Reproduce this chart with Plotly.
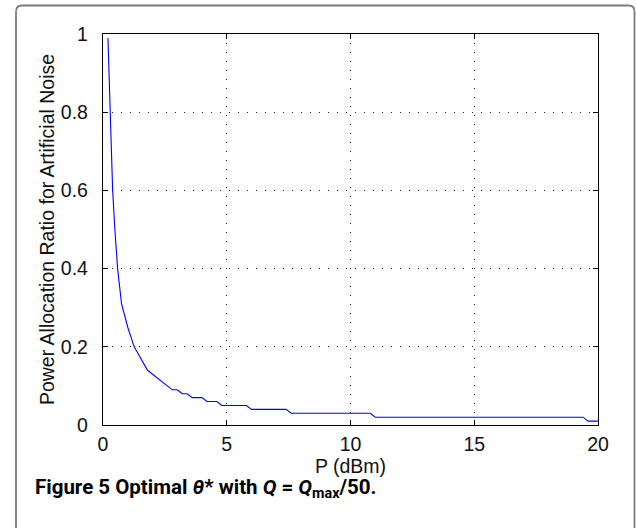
import plotly.graph_objects as go

# Data (P in dBm, power allocation ratio)
p_dbm = [0.2, 0.28, 0.39, 0.48, 0.59, 0.75, 1.0, 1.26, 1.43, 1.8, 2.8, 3.0,
         3.2, 3.4, 3.6, 4.0, 4.2, 4.6, 4.8, 5.8, 6.0, 7.4, 7.6, 10.8, 11.0,
         19.4, 19.6, 20.0]
ratio = [0.99, 0.80, 0.60, 0.50, 0.40, 0.31, 0.25, 0.20, 0.18, 0.14, 0.09, 0.09,
         0.08, 0.08, 0.07, 0.07, 0.06, 0.06, 0.05, 0.05, 0.04, 0.04, 0.03, 0.03, 0.02,
         0.02, 0.01, 0.01]

x_ticks = [0, 5, 10, 15, 20]
x_tick_labels = ["0", "5", "10", "15", "20"]
y_ticks = [0, 0.2, 0.4, 0.6, 0.8, 1.0]
y_tick_labels = ["0", "0.2", "0.4", "0.6", "0.8", "1"]

x_title = "P (dBm)"
y_title = "Power Allocation Ratio for Artificial Noise"
caption = ("<b>Figure 5 Optimal <i>θ</i>* with <i>Q</i> = "
           "<i>Q</i><sub>max</sub>/50.</b>")

W, H = 636, 528
L, R, T, B = 103, 38, 34, 103
pw, ph = W - L - R, H - T - B


def px_x(x):
    return (x - L) / pw


def px_y(y):
    return (H - B - y) / ph


fig = go.Figure()
fig.add_trace(go.Scatter(x=p_dbm, y=ratio, mode="lines",
                         line=dict(color="#0000ff", width=1.1),
                         showlegend=False, hoverinfo="skip"))

font = dict(family="Liberation Sans, Arial, sans-serif", size=19.5, color="#111")
axis_common = dict(
    showline=True, linecolor="black", linewidth=1.3, mirror="ticks",
    ticks="inside", ticklen=5, tickcolor="black", tickwidth=1,
    showgrid=True, gridcolor="#222", gridwidth=1, griddash="1px,8px",
    zeroline=False, tickfont=font,
)

fig.update_xaxes(range=[0, 20], tickvals=x_ticks, ticktext=x_tick_labels,
                 title=dict(text=x_title, font=font, standoff=0),
                 ticklabelstandoff=1, **axis_common)
fig.update_yaxes(range=[0, 1], tickvals=y_ticks, ticktext=y_tick_labels,
                 title=dict(text=y_title, font=font, standoff=1),
                 ticklabelstandoff=10, **axis_common)

# rounded outer frame (sides + rounded corners)
frame = dict(color="#7a7a7a", width=1.8)
xl, xr = px_x(16), px_x(634.5)
yt, yb = px_y(5.5), px_y(540)
rx, ry = 6 / pw, 6 / ph
fig.add_shape(type="line", xref="paper", yref="paper",
              x0=xl + rx, x1=xr - rx, y0=yt, y1=yt, line=frame)
fig.add_shape(type="line", xref="paper", yref="paper",
              x0=xl, x1=xl, y0=yt - ry, y1=yb, line=frame)
fig.add_shape(type="line", xref="paper", yref="paper",
              x0=xr, x1=xr, y0=yt - ry, y1=yb, line=frame)
fig.add_shape(type="path", xref="paper", yref="paper", line=frame,
              path=f"M {xl},{yt-ry} Q {xl},{yt} {xl+rx},{yt}")
fig.add_shape(type="path", xref="paper", yref="paper", line=frame,
              path=f"M {xr-rx},{yt} Q {xr},{yt} {xr},{yt-ry}")

fig.add_annotation(text=caption, xref="paper", yref="paper",
                   x=px_x(33), y=px_y(488), xanchor="left", yanchor="middle",
                   showarrow=False,
                   font=dict(family="Roboto, Noto Sans, sans-serif", size=20.5,
                             color="black"))

fig.update_layout(width=W, height=H,
                  margin=dict(l=L, r=R, t=T, b=B),
                  paper_bgcolor="white", plot_bgcolor="white")

fig.write_html("out.html",
               config={"displayModeBar": False},
               post_script="document.body.style.margin='0';")
